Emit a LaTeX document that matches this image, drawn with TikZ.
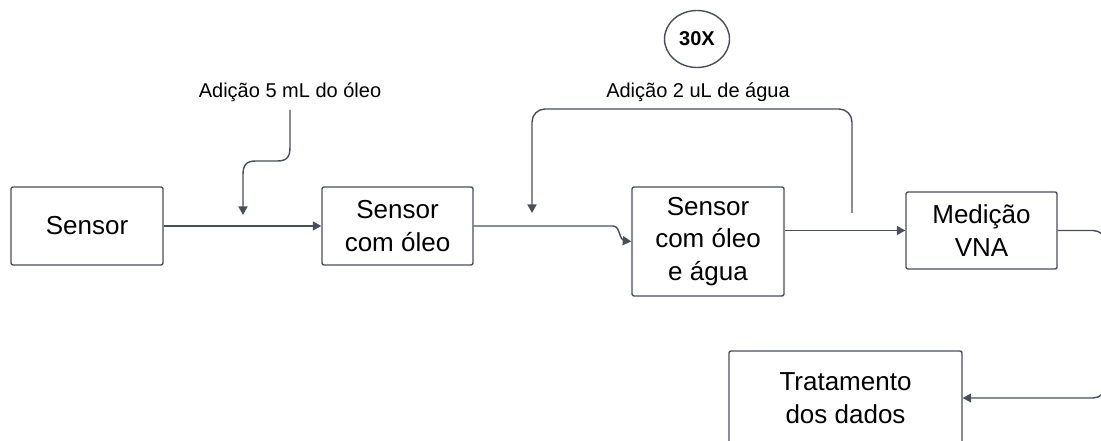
\documentclass[tikz,border=0pt]{standalone}
\usepackage{fontspec}
\setmainfont{Liberation Sans}
\usepackage{tikz}
\usetikzlibrary{arrows.meta}
\usetikzlibrary{shapes}
\definecolor{linha}{HTML}{4A4F57}

\begin{document}
\begin{tikzpicture}[>={Triangle[length=8.5bp,width=9bp]},line join=bevel,
  caixa/.style={draw=linha,line width=1.4bp,rounded corners=2bp,align=center,inner sep=0bp,font=\fontsize{26bp}{32.5bp}\selectfont},
  rotulo/.style={draw=none,inner sep=0bp,font=\fontsize{20bp}{24bp}\selectfont},
  fluxo/.style={linha,line width=1.4bp,->},
]
%%
\useasboundingbox (0bp,0bp) rectangle (1101bp,441bp);
\node (node_sensor) at (87bp,215bp) [caixa,minimum width=152bp,minimum height=78bp] {Sensor};
  \node (node_oleo) at (397.5bp,215bp) [caixa,minimum width=151bp,minimum height=78bp] {Sensor\\com óleo};
  \node (node_agua) at (708bp,199.5bp) [caixa,minimum width=152bp,minimum height=109bp] {Sensor\\com óleo\\e água};
  \node (node_vna) at (981.5bp,210.5bp) [caixa,minimum width=151bp,minimum height=77bp] {Medição\\VNA};
  \node (node_trat) at (845.5bp,43bp) [caixa,minimum width=233bp,minimum height=94bp] {Tratamento\\dos dados};
  \node (node_vezes) at (697bp,402bp) [draw=linha,line width=1.4bp,ellipse,minimum width=65bp,minimum height=57bp,inner sep=0bp,font=\bfseries\fontsize{20bp}{24bp}\selectfont] {30X};
  \node (node_addoleo) at (290bp,349bp) [rotulo] {Adição 5 mL do óleo};
  \node (node_addagua) at (698bp,349bp) [rotulo] {Adição 2 uL de água};
  \coordinate (c_oleo_topo) at (290bp,331bp);
  \coordinate (c_oleo_ponta) at (243bp,226bp);
  \coordinate (c_laco) at (852bp,228bp);
  \coordinate (c_agua_ponta) at (532bp,228bp);
  \draw [fluxo] (node_sensor) -- (node_oleo);
  \draw [fluxo] (c_oleo_topo) -- (290bp,294bp) ..controls (290bp,284bp) and (287bp,280bp) .. (277bp,280bp) -- (256bp,280bp) ..controls (246bp,280bp) and (243bp,276bp) .. (243bp,266bp) -- (c_oleo_ponta);
  \draw [fluxo] (node_oleo) -- (613bp,215bp) ..controls (621bp,215bp) and (618bp,200bp) .. (626bp,200bp) -- (node_agua.west);
  \draw [fluxo] (node_agua.east |- node_vna.west) -- (node_vna.west);
  \draw [fluxo,rounded corners=13bp] (c_laco) -- (852bp,332bp) -- (532bp,332bp) -- (c_agua_ponta);
  \draw [fluxo,rounded corners=13bp] (node_vna.east) -- (1106bp,210.5bp) -- (1106bp,43bp) -- (node_trat.east);
%
\end{tikzpicture}
\end{document}
